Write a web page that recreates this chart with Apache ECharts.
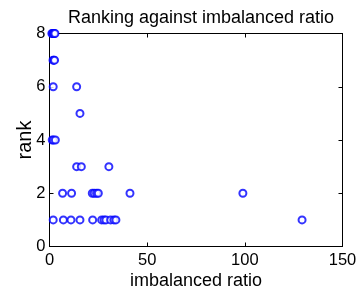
<!DOCTYPE html>
<html>
<head>
<meta charset="utf-8">
<script src="https://cdn.jsdelivr.net/npm/echarts@6/dist/echarts.min.js"></script>
<style>
    html, body { margin: 0; padding: 0; background: #fff; }
    #chart { width: 360px; height: 289px; }
</style>
</head>
<body>
<div id="chart"></div>
<script>
// ---- data: imbalanced ratio vs. rank ----
const rank8 = [1.2, 1.6, 2.0, 2.4, 2.8];
const rank7 = [1.8, 2.2, 2.6];
const rank6 = [1.9, 13.9];
const rank5 = [15.6];
const rank4 = [1.4, 2.0, 3.0];
const rank3 = [13.9, 16.3, 30.4];
const rank2 = [6.7, 11.3, 21.9, 22.9, 24.1, 25.0, 41.2, 99.0];
const rank1 = [1.9, 7.1, 11.0, 15.6, 22.1, 26.7, 27.9, 28.9, 31.3, 33.0, 34.0, 129.3];

const xTicks = [0, 50, 100, 150];
const yTicks = [0, 2, 4, 6, 8];

const groups = [[8, rank8], [7, rank7], [6, rank6], [5, rank5], [4, rank4], [3, rank3], [2, rank2], [1, rank1]];
const points = [];
groups.forEach(([r, xs]) => xs.forEach(x => points.push([x, r])));

const chart = echarts.init(document.getElementById('chart'), null, { renderer: 'canvas' });

const font = 'Liberation Sans, Arial, Helvetica, sans-serif';
const mkLine = () => ({ show: true, onZero: false, lineStyle: { color: '#000', width: 1 } });
const mkTick = () => ({ show: true, inside: true, length: 4, lineStyle: { color: '#000' } });

chart.setOption({
    animation: false,
    backgroundColor: '#fff',
    title: {
        text: 'Ranking against imbalanced ratio',
        left: 196, textAlign: 'center',
        top: 4,
        textStyle: { fontFamily: font, fontSize: 18, fontWeight: 'normal', color: '#000' }
    },
    // MATLAB-style box round the plot
    grid: {
        left: 49.5, right: 17.5, top: 33.5, bottom: 42.5,
        outerBoundsMode: 'none',
        containLabel: false,
        show: true, borderColor: '#000', borderWidth: 1
    },
    xAxis: [{
        type: 'value',
        min: xTicks[0], max: xTicks[xTicks.length - 1], interval: 50,
        name: 'imbalanced ratio',
        nameLocation: 'middle',
        nameGap: 26,
        nameMoveOverlap: false,
        nameTextStyle: { fontFamily: font, fontSize: 18, color: '#000' },
        axisLine: mkLine(), axisTick: mkTick(),
        axisLabel: { fontFamily: font, fontSize: 16.5, color: '#000', margin: 5 },
        splitLine: { show: false }
    }, {
        type: 'value', position: 'top',
        min: xTicks[0], max: xTicks[xTicks.length - 1], interval: 50,
        axisLine: mkLine(), axisTick: mkTick(), axisLabel: { show: false }, splitLine: { show: false }
    }],
    yAxis: [{
        type: 'value',
        min: yTicks[0], max: yTicks[yTicks.length - 1], interval: 2,
        name: 'rank',
        nameLocation: 'middle',
        nameGap: 14,
        nameMoveOverlap: false,
        nameRotate: 90,
        nameTextStyle: { fontFamily: font, fontSize: 20, color: '#000' },
        axisLine: mkLine(), axisTick: mkTick(),
        axisLabel: { fontFamily: font, fontSize: 16.5, color: '#000', margin: 4 },
        splitLine: { show: false }
    }, {
        type: 'value', position: 'right',
        min: yTicks[0], max: yTicks[yTicks.length - 1], interval: 2,
        axisLine: mkLine(), axisTick: mkTick(), axisLabel: { show: false }, splitLine: { show: false }
    }],
    series: [{
        type: 'scatter',
        data: points,
        symbol: 'emptyCircle',
        symbolSize: 7,
        itemStyle: { color: '#0000ff', borderColor: '#0000ff', borderWidth: 1 }
    }, {
        // empty series so the top/right box axes draw their ticks
        type: 'scatter', xAxisIndex: 1, yAxisIndex: 1, data: [], silent: true
    }]
});
</script>
</body>
</html>
